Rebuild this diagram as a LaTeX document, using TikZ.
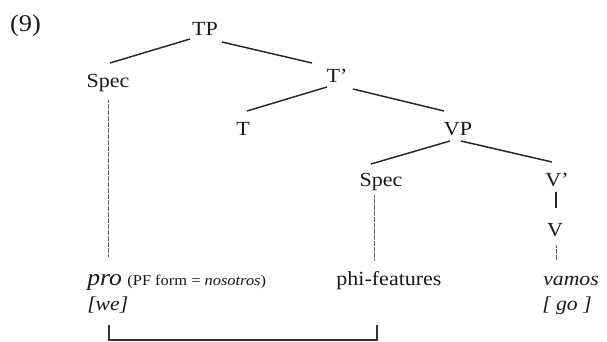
\documentclass[tikz,border=0pt]{standalone}
\usepackage{fontspec}
\setmainfont[FakeStretch=1.1]{Liberation Serif}
\begin{document}
\begin{tikzpicture}[x=0.75pt,y=-0.75pt,
  lbl/.style={anchor=base,inner sep=0pt,font=\fontsize{15}{17}\selectfont,text=black!90},
  lblw/.style={anchor=base west,inner sep=0pt,font=\fontsize{14.8}{17}\selectfont\itshape,text=black!90},
  branch/.style={line width=1.1pt,draw=black!85},
  trace/.style={line width=0.7pt,draw=black!60,dash pattern=on 0.45pt off 0.45pt},
  brk/.style={line width=0.8pt,draw=black!80}]
\useasboundingbox (0,0) rectangle (607,342);
% labels
\node[lbl,font=\fontsize{18}{20}\selectfont] (ex) at (25.5,32) {(9)};
\node[lbl] (TP) at (205,36) {TP};
\node[lbl] (Spec1) at (108,88) {Spec};
\node[lbl] (Tbar) at (337,83) {T’};
\node[lbl] (T) at (243,136) {T};
\node[lbl] (VP) at (458,136) {VP};
\node[lbl] (Spec2) at (381,187) {Spec};
\node[lbl] (Vbar) at (557,187) {V’};
\node[lbl] (V) at (555,237) {V};
\node[lblw] (pro) at (87,286) {{\fontsize{17.5}{19}\selectfont pro} {\upshape\fontsize{11.2}{13}\selectfont (PF form = \textit{nosotros})}};
\node[lblw] (we) at (87,310) {[we]};
\node[lbl] (phi) at (389,286) {phi-features};
\node[lblw] (vamos) at (543,286) {vamos};
\node[lblw] (go) at (542,310) {[ go ]};
% branches
\draw[branch] ([shift={(-15,3)}]TP.base) -- ([shift={(2,-25)}]Spec1.base);
\draw[branch] ([shift={(17,6)}]TP.base) -- ([shift={(-25,-20)}]Tbar.base);
\draw[branch] ([shift={(-10,4)}]Tbar.base) -- ([shift={(4,-25)}]T.base);
\draw[branch] ([shift={(16,6)}]Tbar.base) -- ([shift={(-14,-25)}]VP.base);
\draw[branch] ([shift={(-8,5)}]VP.base) -- ([shift={(-10,-23)}]Spec2.base);
\draw[branch] ([shift={(3,5)}]VP.base) -- ([shift={(-5,-25)}]Vbar.base);
\draw[branch] ([shift={(-1,5)}]Vbar.base) -- ([shift={(1,-29)}]V.base);
% traces
\draw[trace] ([shift={(0,12)}]Spec1.base) -- ([shift={(21,-29)}]pro.base west);
\draw[trace] ([shift={(-7,8)}]Spec2.base) -- ([shift={(-15,-26)}]phi.base);
\draw[trace] ([shift={(1,8)}]V.base) -- ([shift={(13,-26)}]vamos.base west);
% bracket
\coordinate (bl) at ([shift={(22,15)}]we.base west);
\coordinate (br) at ([shift={(-12,39)}]phi.base);
\draw[brk] (bl) -- ++(0,15) -| (br);
\end{tikzpicture}
\end{document}
